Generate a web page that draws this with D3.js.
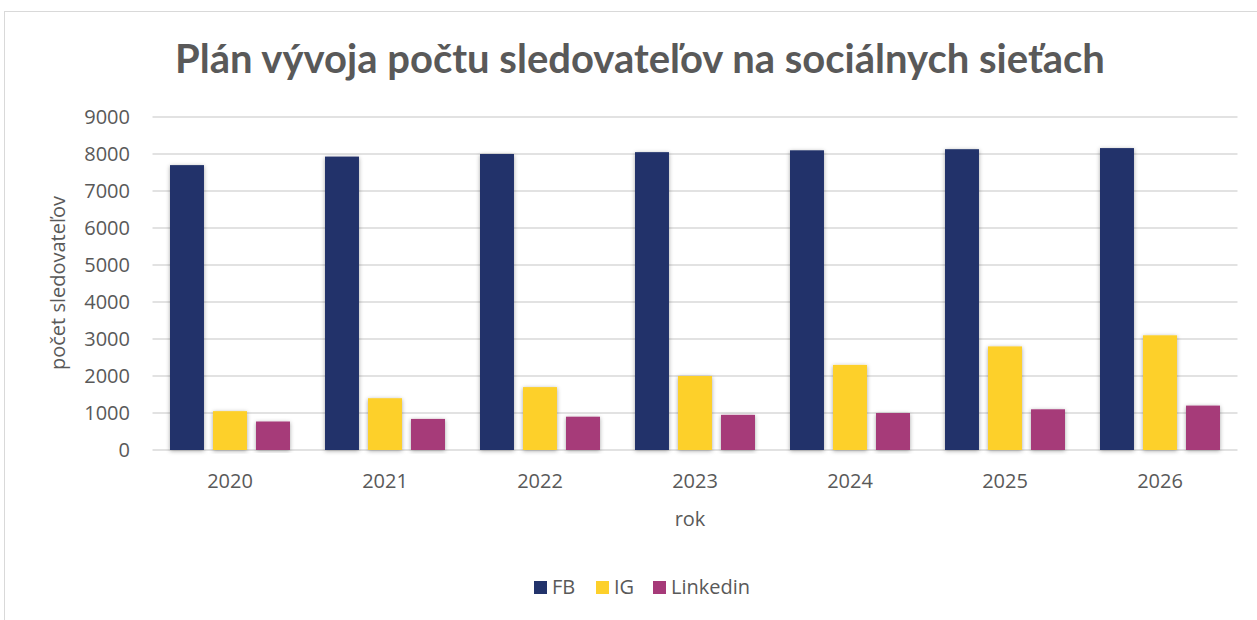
<!DOCTYPE html>
<html><head><meta charset="utf-8">
<script src="https://cdn.jsdelivr.net/npm/d3@7"></script>
<style>body{margin:0;background:#fff}svg{display:block}</style>
</head><body>
<svg id="c" width="1257" height="620"></svg>
<script>
const years = ["2020","2021","2022","2023","2024","2025","2026"];
const seriesNames = ["FB","IG","Linkedin"];
const fb = [7700,7930,8000,8050,8100,8130,8160];
const ig = [1050,1400,1700,2000,2300,2800,3100];
const linkedin = [770,840,900,950,1000,1100,1200];
const yTicks = [0,1000,2000,3000,4000,5000,6000,7000,8000,9000];
const colors = ["#22336b","#fdd02b","#a63a79"];
const values = [fb, ig, linkedin];

const svg = d3.select("#c");
const font = "'Open Sans', 'Noto Sans', sans-serif";
const titleFont = "Lato, 'Open Sans', sans-serif";
const txt = "#595959";
const fs = 20;

// frame
svg.append("rect").attr("x",4.5).attr("y",11.5).attr("width",1400).attr("height",800)
  .attr("fill","#fff").attr("stroke","#d9d9d9").attr("stroke-width",1);

const defs = svg.append("defs");
const f = defs.append("filter").attr("id","sh").attr("x","-30%").attr("y","-10%").attr("width","160%").attr("height","120%");
f.append("feDropShadow").attr("dx",0).attr("dy",1).attr("stdDeviation",2).attr("flood-color","#000").attr("flood-opacity",0.35);

const L=152.5, R=1237.5, T=117, B=450;
const x0 = d3.scaleBand().domain(years).range([L,R]).paddingInner(0.2258).paddingOuter(0.1129);
const x1 = d3.scaleBand().domain(seriesNames).range([0,x0.bandwidth()]).paddingInner(0.21).paddingOuter(0);
const y = d3.scaleLinear().domain([0,9000]).range([B,T]);

// gridlines
svg.append("g").selectAll("line").data(yTicks).join("line")
  .attr("x1",L).attr("x2",R).attr("y1",d=>y(d)).attr("y2",d=>y(d))
  .attr("stroke","#d9d9d9").attr("stroke-width",1.5);

// y labels
svg.append("g").selectAll("text").data(yTicks).join("text")
  .attr("x",130).attr("y",d=>y(d)).attr("dy","0.35em").attr("text-anchor","end")
  .attr("font-family",font).attr("font-size",fs).attr("fill",txt).text(d=>d);

// bars
const g = svg.append("g");
years.forEach((yr,i)=>{
  seriesNames.forEach((s,j)=>{
    g.append("rect").attr("x",x0(yr)+x1(s)).attr("y",y(values[j][i]))
      .attr("width",x1.bandwidth()).attr("height",B-y(values[j][i]))
      .attr("fill",colors[j]).attr("filter","url(#sh)");
  });
});

// x labels
svg.append("g").selectAll("text").data(years).join("text")
  .attr("x",d=>x0(d)+x0.bandwidth()/2).attr("y",488).attr("text-anchor","middle")
  .attr("font-family",font).attr("font-size",fs).attr("fill",txt).text(d=>d);

// axis titles
svg.append("text").attr("x",690).attr("y",526).attr("text-anchor","middle")
  .attr("font-family",font).attr("font-size",fs).attr("fill",txt).text("rok");
svg.append("text").attr("transform","translate(65,283) rotate(-90)").attr("text-anchor","middle")
  .attr("font-family",font).attr("font-size",fs).attr("fill",txt).text("počet sledovateľov");

// title
const title = svg.append("text").attr("x",640).attr("y",73).attr("text-anchor","middle")
  .attr("font-family",titleFont).attr("font-weight","bold").attr("font-size",36).attr("fill",txt)
  .text("Plán vývoja počtu sledovateľov na sociálnych sieťach");
const tw = title.node().getComputedTextLength();
title.attr("font-size", 36*930/tw);

// legend
const legX = [534, 596, 653];
seriesNames.forEach((s,j)=>{
  svg.append("rect").attr("x",legX[j]).attr("y",581).attr("width",13).attr("height",13).attr("fill",colors[j]);
  svg.append("text").attr("x",legX[j]+18).attr("y",594).attr("font-family",font).attr("font-size",fs)
    .attr("fill",txt).text(s);
});
</script>
</body></html>
